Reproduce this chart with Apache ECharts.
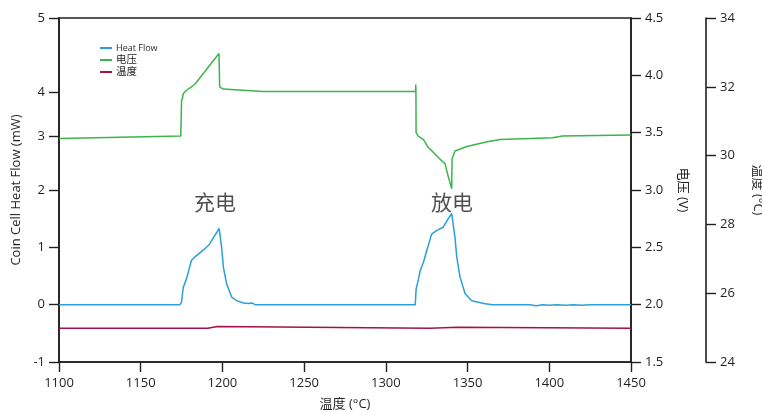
<!DOCTYPE html>
<html>
<head>
<meta charset="utf-8">
<script src="https://cdn.jsdelivr.net/npm/echarts@6/dist/echarts.min.js"></script>
<style>
  html, body { margin: 0; padding: 0; background: #fff; }
  #chart { width: 762px; height: 412px; }
</style>
</head>
<body>
<div id="chart"></div>
<script>
// Heat flow (mW) against temperature (°C)
const heatFlow = [
  [1100, 0], [1174, 0], [1175, 0.05], [1176, 0.3], [1178, 0.45], [1181, 0.77],
  [1183, 0.83], [1186, 0.9], [1189, 0.97], [1192, 1.05], [1194.5, 1.17],
  [1197, 1.28], [1198, 1.33], [1199.5, 1.0], [1200.6, 0.65], [1202.6, 0.36],
  [1205.7, 0.13], [1208.7, 0.07], [1212.8, 0.03], [1216, 0.02], [1218, 0.03],
  [1220, 0], [1318, 0], [1318.5, 0.27], [1320, 0.45], [1321, 0.59], [1323, 0.74],
  [1325, 0.94], [1328, 1.23], [1331, 1.29], [1335, 1.35], [1338, 1.49],
  [1340.3, 1.59], [1342.3, 1.17], [1343.4, 0.83], [1345.4, 0.48], [1348.5, 0.19],
  [1352.6, 0.07], [1360, 0.02], [1365, 0], [1388, 0], [1392, -0.02], [1396, 0],
  [1400, -0.01], [1405, 0], [1410, -0.01], [1415, 0], [1420, -0.01], [1425, 0],
  [1450, 0]
];

// Cell voltage (V)
const voltage = [
  [1100, 3.45], [1174.5, 3.47], [1175, 3.78], [1175.6, 3.8], [1176, 3.84],
  [1178, 3.87], [1181, 3.9], [1183, 3.92], [1197.9, 4.19], [1198.3, 3.9],
  [1200.5, 3.88], [1225, 3.86], [1318.2, 3.86], [1318.3, 3.92], [1318.4, 3.86],
  [1318.5, 3.5], [1319.8, 3.47], [1323, 3.44], [1326, 3.37], [1329, 3.33],
  [1333, 3.27], [1336.2, 3.23], [1338.3, 3.11], [1340.3, 3.01], [1340.5, 3.27],
  [1342.3, 3.34], [1349.5, 3.38], [1362, 3.42], [1370, 3.44], [1402, 3.455],
  [1408, 3.47], [1450, 3.48]
];

// Cell temperature (°C)
const temperature = [
  [1100, 24.98], [1191, 24.98], [1192, 25.03], [1197, 25.03],
  [1198, 24.98], [1327, 24.98], [1328, 25.01], [1344, 25.01], [1345, 24.98],
  [1450, 24.98]
];

// Phase annotations: [temperature, heat-flow level, text]
const phaseLabels = [
  [1195.5, 1.76, '充电'],
  [1340.5, 1.76, '放电']
];

// Left axis tick positions and their printed labels
const leftTickValues = [-1, 0, 1, 2, 2.93, 3.7, 5];
const leftTickLabels = ['-1', '0', '1', '2', '3', '4', '5'];

const seriesNames = ['Heat Flow', '电压', '温度'];
const colors = ['#2a9fd9', '#3bb54a', '#a3124a'];

const ink = '#231f20';
const font = "'Open Sans', 'Noto Sans CJK SC', sans-serif";

const axisCommon = {
  axisLine: { show: true, onZero: false, lineStyle: { color: ink, width: 1.6 } },
  axisTick: { show: true, length: 10, lineStyle: { color: ink, width: 1.4 } },
  axisLabel: { color: ink, fontSize: 13, fontFamily: font },
  splitLine: { show: false },
  nameTextStyle: { color: ink, fontSize: 13, fontFamily: font }
};

const chart = echarts.init(document.getElementById('chart'), null, { renderer: 'canvas' });

chart.setOption({
  animation: false,
  backgroundColor: '#fff',
  textStyle: { fontFamily: font },
  grid: {
    left: 59, right: 131, top: 18, bottom: 50,
    outerBoundsMode: 'none',
    containLabel: false,
    show: true, borderColor: ink, borderWidth: 1.6, backgroundColor: 'transparent'
  },
  legend: {
    data: seriesNames,
    orient: 'vertical',
    left: 95, top: 37,
    icon: 'rect',
    itemWidth: 12, itemHeight: 2, itemGap: 0,
    formatter: function (name) {
      return /[\u4e00-\u9fff]/.test(name) ? '{cn|' + name + '}' : name;
    },
    textStyle: {
      color: ink, fontSize: 9, fontFamily: font, lineHeight: 12,
      padding: [0, 0, 0, -1],
      rich: { cn: { fontSize: 10.5, lineHeight: 12, fontFamily: font, color: ink } }
    }
  },
  xAxis: Object.assign({}, axisCommon, {
    type: 'value',
    min: 1100, max: 1450, interval: 50,
    name: '温度 (°C)',
    nameLocation: 'middle',
    nameGap: 36,
    axisLabel: Object.assign({}, axisCommon.axisLabel, {
      margin: 15,
      formatter: function (v) { return String(v); }
    })
  }),
  yAxis: [
    Object.assign({}, axisCommon, {
      type: 'value',
      position: 'left',
      min: -1, max: 5,
      name: 'Coin Cell Heat Flow (mW)',
      nameLocation: 'middle',
      nameGap: 35,
      axisTick: Object.assign({}, axisCommon.axisTick, { customValues: leftTickValues }),
      axisLabel: Object.assign({}, axisCommon.axisLabel, {
        margin: 14,
        customValues: leftTickValues,
        formatter: function (v) {
          const i = leftTickValues.findIndex(function (t) { return Math.abs(t - v) < 1e-6; });
          return i >= 0 ? leftTickLabels[i] : '';
        }
      })
    }),
    Object.assign({}, axisCommon, {
      type: 'value',
      position: 'right',
      min: 1.5, max: 4.5, interval: 0.5,
      name: '电压 (V)',
      nameLocation: 'middle',
      nameRotate: -90,
      nameGap: 45,
      axisLabel: Object.assign({}, axisCommon.axisLabel, {
        margin: 14,
        formatter: function (v) { return v.toFixed(1); }
      })
    }),
    Object.assign({}, axisCommon, {
      type: 'value',
      position: 'right',
      offset: 75,
      min: 24, max: 34, interval: 2,
      name: '温度 (°C)',
      nameLocation: 'middle',
      nameRotate: -90,
      nameGap: 45,
      axisLabel: Object.assign({}, axisCommon.axisLabel, { margin: 14 })
    })
  ],
  series: [
    {
      name: seriesNames[0], type: 'line', yAxisIndex: 0, data: heatFlow,
      symbol: 'none', color: colors[0], lineStyle: { width: 1.5 }
    },
    {
      name: seriesNames[1], type: 'line', yAxisIndex: 1, data: voltage,
      symbol: 'none', color: colors[1], lineStyle: { width: 1.5 }
    },
    {
      name: seriesNames[2], type: 'line', yAxisIndex: 2, data: temperature,
      symbol: 'none', color: colors[2], lineStyle: { width: 1.5 }
    },
    {
      name: 'phase', type: 'scatter', yAxisIndex: 0, data: phaseLabels,
      symbolSize: 0, silent: true,
      label: {
        show: true, position: 'inside',
        formatter: function (p) { return p.data[2]; },
        color: ink, fontSize: 21, fontFamily: font
      }
    }
  ]
});
</script>
</body>
</html>
